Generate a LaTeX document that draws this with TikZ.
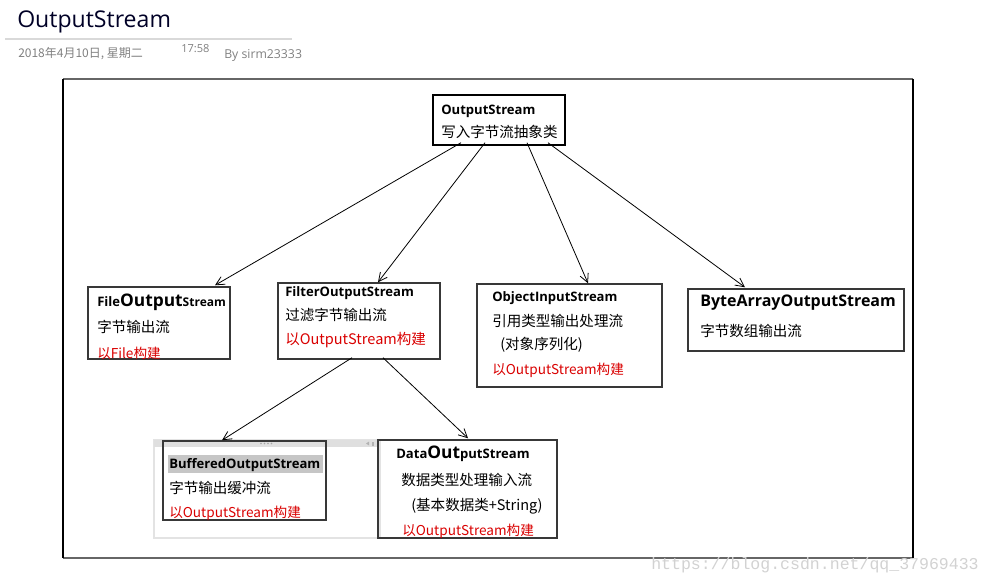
\documentclass[tikz,border=0pt]{standalone}
\usepackage{fontspec}
\setmainfont{Open Sans}
\newfontfamily\cjk{Noto Sans CJK SC}
\newfontfamily\wmfont{Liberation Mono}
\usetikzlibrary{arrows.meta,calc,fit}
\newcommand\fsT{\fontsize{17.3pt}{19pt}\selectfont}
\newcommand\fsB{\fontsize{9.8pt}{11pt}\selectfont\bfseries}
\newcommand\fsBig{\fontsize{13pt}{14pt}\selectfont\bfseries}
\newcommand\fsL{\fontsize{12pt}{14pt}\selectfont\bfseries}
\newcommand\fsC{\fontsize{10.9pt}{12pt}\selectfont\cjk}
\newcommand\fsR{\fontsize{10.2pt}{12pt}\selectfont\cjk}
\begin{document}
\begin{tikzpicture}[x=0.75pt,y=-0.75pt,
  box/.style={draw=black!78,line width=1.1pt,inner sep=0pt,rectangle},
  txt/.style={anchor=west,inner sep=0pt},
  red/.style={txt,text=red!85!black},
  arr/.style={-{Straight Barb[length=6.5pt,width=6.5pt]},line width=0.6pt}]
\useasboundingbox (0,0) rectangle (995,584);
% header
\node[txt,text=black!85!blue] (title) at (17,22) {\fsT OutputStream};
\draw[gray!30,line width=0.8pt] (5,39) -- (292,39);
\node[txt,text=gray] (date) at (18,54) {\fontsize{9pt}{10pt}\selectfont\cjk 2018年4月10日, 星期二};
\node[txt,text=gray] (time) at (181,49) {\fontsize{8.3pt}{10pt}\selectfont 17:58};
\node[txt,text=gray] (by) at (224,55) {\fontsize{9.2pt}{10pt}\selectfont By sirm23333};
% frame
\draw[black!60,line width=1.5pt] (63,79) -- (913,79);
\draw[black!60,line width=1.8pt] (63,558) -- (913,558);
\draw[black,line width=1.1pt] (63,79) -- (63,558);
\draw[black,line width=1.1pt] (913,79) -- (913,558);
% buffered container
\draw[gray!22,line width=0.8pt] (154,440) rectangle (380,538);
\fill[gray!25] (154,440) rectangle (378,447);
\foreach \i in {0,1,2,3} \fill[gray!70] (261+3.5*\i,443.5) circle (0.8);
\fill[gray!60] (366,443.5) -- (369,441.5) -- (369,445.5) -- cycle;
\fill[gray!60] (372,441.5) rectangle (373.5,445.5);
% boxes
\node[box,draw=black,fit={(433,95) (565,145)}] (os) {};
\node[box,fit={(88,287) (230,359)}] (file) {};
\node[box,fit={(278,283) (440,359)}] (filter) {};
\node[box,fit={(477,284) (662,387)}] (obj) {};
\node[box,fit={(688,289) (904,351)}] (byte) {};
\node[box,fit={(163,441) (326,520)}] (buf) {};
\node[box,fit={(378,440) (557,538)}] (data) {};
% texts
\node[txt] (os1) at (441,111) {\fsB OutputStream};
\node[txt] (os2) at (441,132) {\fsC 写入字节流抽象类};

\node[txt] (f1) at (97,302) {\fsB File\fsBig Output\fontsize{9pt}{10pt}\selectfont Stream};
\node[txt] (f2) at (97,327) {\fsC 字节输出流};
\node[red] (f3) at (97,353) {\fsR 以File构建};

\node[txt] (fi1) at (285,293) {\fsB FilterOutputStream};
\node[txt] (fi2) at (285,315) {\fsC 过滤字节输出流};
\node[red] (fi3) at (285,340) {\fsC 以OutputStream构建};

\node[txt] (o1) at (492,298) {\fsB ObjectInputStream};
\node[txt] (o2) at (492,321) {\fsC 引用类型输出处理流};
\node[txt] (o3) at (500,345) {\fsC (对象序列化)};
\node[red] (o4) at (492,370) {\fsR 以OutputStream构建};

\node[txt] (b1) at (700,303) {\fsL ByteArrayOutputStream};
\node[txt] (b2) at (700,331) {\fsC 字节数组输出流};

\fill[gray!45] (168,455) rectangle (323,473);
\node[txt] (bu1) at (169,465) {\fsB BufferedOutputStream};
\node[txt] (bu2) at (169,488) {\fsC 字节输出缓冲流};
\node[red] (bu3) at (169,513) {\fsR 以OutputStream构建};

\node[txt] (d1) at (396,454) {\fsB Data\fsBig Out\fsB putStream};
\node[txt] (d2) at (401,480) {\fsC 数据类型处理输入流};
\node[txt] (d3) at (411,506) {\fsC (基本数据类+String)};
\node[red] (d4) at (402,531) {\fsR 以OutputStream构建};
% arrows
\draw[arr] ($(os.south)+(-38,-3)$) -- ($(file.north)+(56,-1)$);
\draw[arr] ($(os.south)+(-14,-3)$) -- ($(filter.north)+(19,0)$);
\draw[arr] ($(os.south)+(28,-3)$) -- ($(obj.north)+(18.5,0)$);
\draw[arr] ($(os.south)+(49,-3)$) -- ($(byte.north)+(-51,-1)$);
\draw[arr] ($(filter.south)+(-7,-2)$) -- ($(buf.north)+(-22.5,0)$);
\draw[arr] ($(filter.south)+(24,-2)$) -- ($(data.north)+(0.5,-1)$);
% watermark
\node[txt,text=gray!35] (wm) at (651,565) {\wmfont\fontsize{12.4pt}{14pt}\selectfont https://blog.csdn.net/qq\_37969433};
\end{tikzpicture}
\end{document}
